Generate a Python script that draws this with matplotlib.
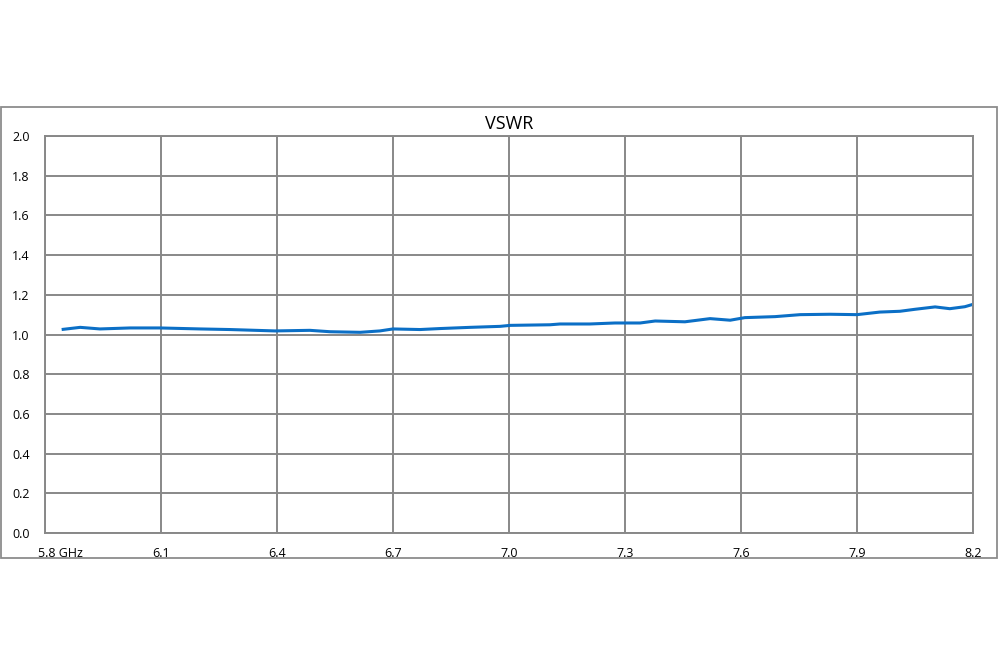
import matplotlib
matplotlib.use("Agg")
import matplotlib.pyplot as plt
import matplotlib.transforms as mtransforms
from matplotlib.patches import Rectangle

freq_ghz = [5.847, 5.891, 5.942, 6.020, 6.097, 6.201, 6.278, 6.395, 6.485, 6.537,
            6.615, 6.666, 6.700, 6.770, 6.822, 6.899, 6.977, 7.003, 7.106, 7.132,
            7.209, 7.274, 7.339, 7.378, 7.455, 7.520, 7.572, 7.610, 7.688, 7.753,
            7.830, 7.900, 7.959, 8.011, 8.050, 8.102, 8.140, 8.179, 8.200]
vswr = [1.026, 1.036, 1.028, 1.033, 1.033, 1.028, 1.025, 1.018, 1.021, 1.014,
        1.011, 1.018, 1.028, 1.025, 1.030, 1.036, 1.041, 1.046, 1.049, 1.053,
        1.053, 1.058, 1.058, 1.068, 1.064, 1.080, 1.072, 1.085, 1.090, 1.100,
        1.102, 1.100, 1.113, 1.117, 1.127, 1.139, 1.130, 1.140, 1.152]

x_ticks = [5.8, 6.1, 6.4, 6.7, 7.0, 7.3, 7.6, 7.9, 8.2]
x_labels = ["5.8 GHz", "6.1", "6.4", "6.7", "7.0", "7.3", "7.6", "7.9", "8.2"]
y_ticks = [0.0, 0.2, 0.4, 0.6, 0.8, 1.0, 1.2, 1.4, 1.6, 1.8, 2.0]
y_labels = ["0.0", "0.2", "0.4", "0.6", "0.8", "1.0", "1.2", "1.4", "1.6", "1.8", "2.0"]
title = "VSWR"

plt.rcParams['font.family'] = ['Open Sans', 'DejaVu Sans']

fig = plt.figure(figsize=(10, 6.67), dpi=100)
grid_col = "#888888"

# outer frame
fig.patches.append(Rectangle((0.001, 0.163), 0.996, 0.677, transform=fig.transFigure,
                             fill=False, edgecolor="#8c8c8c", linewidth=1.3))

ax = fig.add_axes([0.045, 0.2009, 0.928, 0.5952])
ax.plot(freq_ghz, vswr, color="#0b6fc6", linewidth=2.2)
ax.set_xlim(5.8, 8.2)
ax.set_ylim(0.0, 2.0)
ax.set_xticks(x_ticks)
ax.set_xticklabels(x_labels, fontsize=9)
ax.set_yticks(y_ticks)
ax.set_yticklabels(y_labels, fontsize=9)
ax.tick_params(length=0, pad=10)
ax.tick_params(axis='y', pad=11)
ax.grid(True, color=grid_col, linewidth=1.4)
ax.set_axisbelow(True)
for s in ax.spines.values():
    s.set_color(grid_col)
    s.set_linewidth(1.4)

# shift first x label right
lbl = ax.get_xticklabels()[0]
lbl.set_transform(lbl.get_transform() + mtransforms.ScaledTranslation(15/100, 0, fig.dpi_scale_trans))

ax.set_title(title, fontsize=13, pad=5)

fig.savefig("out.png", dpi=100)
